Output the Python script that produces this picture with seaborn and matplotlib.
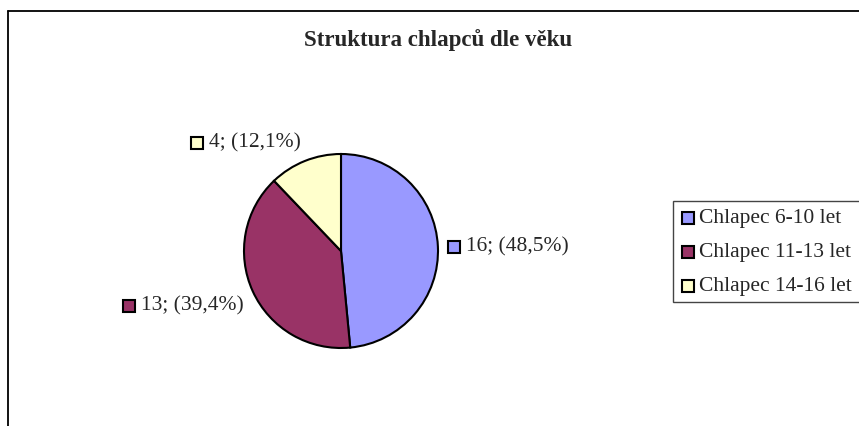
import matplotlib
matplotlib.use('Agg')
import matplotlib.pyplot as plt
import seaborn as sns
import numpy as np

categories = ['Chlapec 6-10 let', 'Chlapec 11-13 let', 'Chlapec 14-16 let']
counts = [16, 13, 4]
pct_labels = ['48,5%', '39,4%', '12,1%']
colors = ['#9999FF', '#993366', '#FFFFCC']
title = 'Struktura chlapců dle věku'

sns.set_style('white')
plt.rcParams['font.family'] = ['Liberation Serif', 'DejaVu Serif']

W, H = 859, 427
fig = plt.figure(figsize=(W / 100, H / 100), dpi=100)

# outer chart frame (runs off the right and bottom edges)
fig.add_artist(plt.Line2D([7.5 / W, 7.5 / W], [1 - 12 / H, 0], color='black', lw=1.3))
fig.add_artist(plt.Line2D([7.5 / W, 1], [1 - 12 / H, 1 - 12 / H], color='black', lw=1.3))

fig.text(438 / W, 1 - 40 / H, title, ha='center', va='center',
         fontsize=16.5, fontweight='bold')

# pie: center (341, 252) px, radius 97 px
cx, cy, R = 341, 252, 97
ax = fig.add_axes([(cx - 150) / W, (H - cy - 150) / H, 300 / W, 300 / H])
wedges, _ = ax.pie(counts, colors=colors, startangle=90, counterclock=False,
                   radius=1, wedgeprops=dict(edgecolor='black', linewidth=1.5))
lim = 150 / R
ax.set_xlim(-lim, lim)
ax.set_ylim(-lim, lim)
ax.axis('off')

fig.canvas.draw()
renderer = fig.canvas.get_renderer()
sq = 12
for w, n, p in zip(wedges, counts, pct_labels):
    ang = np.deg2rad((w.theta1 + w.theta2) / 2)
    c, s = np.cos(ang), np.sin(ang)
    ax_x, ax_y = c * 1.1, s * 1.1
    right = c > 0.05
    va = 'bottom' if s > 0.5 else ('top' if s < -0.3 else 'center')
    off = (sq + 6) / R if right else 0
    t = ax.text(ax_x + off, ax_y, f'{n}; ({p})',
                ha='left' if right else 'right', va=va, fontsize=15.5)
    bb = t.get_window_extent(renderer)
    mx = bb.x0 - 6 - sq
    my = (bb.y0 + bb.y1) / 2 - sq / 2 - 1
    fig.add_artist(plt.Rectangle((mx / W, my / H), sq / W, sq / H,
                                 facecolor=w.get_facecolor(), edgecolor='black', lw=1.5))

# legend box
fig.add_artist(plt.Rectangle((673 / W, (H - 303) / H), 200 / W, 101 / H,
                             facecolor='white', edgecolor='#444444', lw=1.0))
for i, (c, col) in enumerate(zip(categories, colors)):
    yy = 218.5 + i * 34.2
    fig.add_artist(plt.Rectangle((682 / W, (H - yy - 6.5) / H), sq / W, sq / H,
                                 facecolor=col, edgecolor='black', lw=1.5))
    fig.text(699 / W, 1 - yy / H, c, ha='left', va='center', fontsize=15.5)

fig.savefig('out.png', dpi=100)
